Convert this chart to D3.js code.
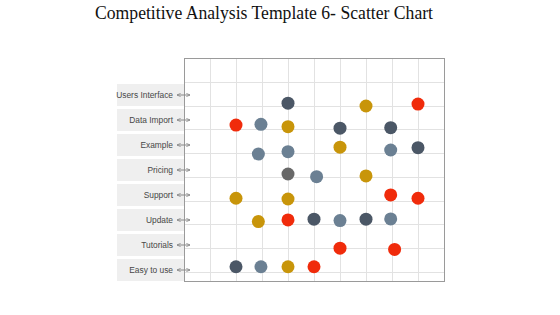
<!DOCTYPE html>
<html>
<head>
<meta charset="utf-8">
<script src="https://cdn.jsdelivr.net/npm/d3@7"></script>
<style>
  body { margin: 0; background: #fff; }
  svg { display: block; }
</style>
</head>
<body>
<svg id="chart" width="560" height="315"></svg>
<script>
const title = "Competitive Analysis Template 6- Scatter Chart";
const categories = ["Users Interface", "Data Import", "Example", "Pricing", "Support", "Update", "Tutorials", "Easy to use"];

// scatter values per colour, [x, y]
const redPoints = [[9.0, 7.06], [2.0, 6.18], [7.95, 3.24], [9.0, 3.1], [4.0, 2.19], [6.0, 1.0], [8.1, 0.95], [5.0, 0.22]];
const goldPoints = [[7.0, 6.98], [4.0, 6.11], [6.0, 5.25], [7.0, 4.04], [2.0, 3.1], [4.0, 3.07], [2.86, 2.12], [4.0, 0.22]];
const darkPoints = [[4.0, 7.1], [6.0, 6.05], [7.95, 6.07], [9.0, 5.23], [5.0, 2.22], [7.0, 2.22], [2.0, 0.22]];
const slatePoints = [[2.96, 6.21], [2.86, 4.96], [4.0, 5.06], [7.95, 5.13], [5.1, 4.01], [6.0, 2.16], [7.95, 2.23], [2.96, 0.22]];
const grayPoints = [[4.0, 4.12]];

const xTicks = d3.range(0, 11);
const yTicks = d3.range(0, 10);

const series = [
  { color: "#f02b0b", values: redPoints },
  { color: "#c8950a", values: goldPoints },
  { color: "#4b5766", values: darkPoints },
  { color: "#6b8093", values: slatePoints },
  { color: "#686868", values: grayPoints }
];

const svg = d3.select("#chart");
const plot = { left: 184, right: 444, top: 58, bottom: 281 };

const x = d3.scaleLinear().domain([0, 10]).range([plot.left, plot.right]);
const y = d3.scaleLinear().domain([-0.38, 9]).range([plot.bottom, plot.top]);
const yCat = d3.scalePoint().domain(categories).range([94.5, 269.5]);

svg.append("rect").attr("width", 560).attr("height", 315).attr("fill", "#fff");

svg.append("text")
  .attr("x", 264)
  .attr("y", 19)
  .attr("text-anchor", "middle")
  .attr("font-family", "Liberation Serif, serif")
  .attr("font-size", 18)
  .attr("fill", "#111")
  .attr("textLength", 338)
  .attr("lengthAdjust", "spacingAndGlyphs")
  .text(title);

// grid
const grid = svg.append("g").attr("stroke", "#e2e2e2").attr("stroke-width", 1);
grid.selectAll("line.v")
  .data(xTicks.slice(1, -1))
  .join("line")
    .attr("class", "v")
    .attr("x1", d => Math.round(x(d)) + 0.5)
    .attr("x2", d => Math.round(x(d)) + 0.5)
    .attr("y1", plot.top)
    .attr("y2", plot.bottom);
grid.selectAll("line.h")
  .data(yTicks.slice(0, -1))
  .join("line")
    .attr("class", "h")
    .attr("y1", d => Math.round(y(d)) + 0.5)
    .attr("y2", d => Math.round(y(d)) + 0.5)
    .attr("x1", plot.left)
    .attr("x2", plot.right);

svg.append("rect")
  .attr("x", plot.left + 0.5)
  .attr("y", plot.top + 0.5)
  .attr("width", plot.right - plot.left)
  .attr("height", plot.bottom - plot.top)
  .attr("fill", "none")
  .attr("stroke", "#9a9a9a");

// category labels on the left
const labels = svg.append("g");
labels.selectAll("rect")
  .data(categories)
  .join("rect")
    .attr("x", 117)
    .attr("y", d => yCat(d) - 10.5)
    .attr("width", plot.left - 117)
    .attr("height", 22)
    .attr("fill", "#efefef");

labels.selectAll("text")
  .data(categories)
  .join("text")
    .attr("x", 173)
    .attr("y", d => yCat(d) + 3)
    .attr("text-anchor", "end")
    .attr("font-family", "Liberation Sans, Arial, sans-serif")
    .attr("font-size", 8.4)
    .attr("fill", "#474747")
    .text(d => d);

const defs = svg.append("defs");
defs.append("marker")
  .attr("id", "ah")
  .attr("viewBox", "0 0 6 6")
  .attr("refX", 5.5)
  .attr("refY", 3)
  .attr("markerWidth", 4)
  .attr("markerHeight", 4)
  .attr("markerUnits", "userSpaceOnUse")
  .attr("orient", "auto-start-reverse")
  .append("path")
    .attr("d", "M0,0.5L5.5,3L0,5.5")
    .attr("fill", "none")
    .attr("stroke", "#888")
    .attr("stroke-width", 1.2);

labels.selectAll("line")
  .data(categories)
  .join("line")
    .attr("x1", 177)
    .attr("x2", 190)
    .attr("y1", d => yCat(d) + 0.5)
    .attr("y2", d => yCat(d) + 0.5)
    .attr("stroke", "#888")
    .attr("stroke-width", 1)
    .attr("marker-start", "url(#ah)")
    .attr("marker-end", "url(#ah)");

// points
svg.append("g")
  .selectAll("g")
  .data(series)
  .join("g")
    .attr("fill", d => d.color)
  .selectAll("circle")
  .data(d => d.values)
  .join("circle")
    .attr("cx", d => x(d[0]))
    .attr("cy", d => y(d[1]))
    .attr("r", 6.5);
</script>
</body>
</html>
